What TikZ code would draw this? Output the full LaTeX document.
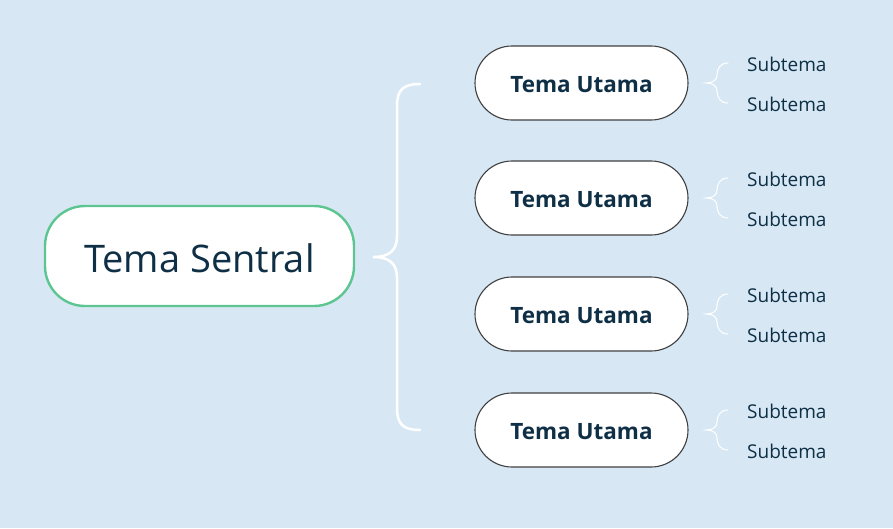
\documentclass[tikz,border=0pt]{standalone}
\usepackage{fontspec}
\setmainfont{Open Sans}
\definecolor{bg}{HTML}{D7E8F4}
\definecolor{txt}{HTML}{0E2F45}
\definecolor{grn}{HTML}{5CC591}
\definecolor{edge}{HTML}{404040}
\tikzset{
  central/.style={draw=grn, line width=2.4pt, fill=white, rounded corners=40pt,
    minimum width=309pt, minimum height=100pt, inner sep=0pt, text=txt, font=\fontsize{38}{40}\selectfont},
  mainbox/.style={draw=edge, line width=1.1pt, fill=white, rounded corners=37pt,
    minimum width=213pt, minimum height=74pt, inner sep=0pt, text=txt, font=\bfseries\fontsize{22.5}{26}\selectfont},
  subbox/.style={inner sep=0pt, anchor=west, text=txt, font=\fontsize{19}{22}\selectfont},
  bigbrace/.style={draw=white, line width=2.5pt, line cap=round},
  smallbrace/.style={draw=white, line width=1pt, line cap=round}
}
\begin{document}
\begin{tikzpicture}[x=1pt,y=-1pt]
\fill[bg] (0,0) rectangle (893,528);
\useasboundingbox (0,0) rectangle (893,528);
\node[central] (c) at (199.5,256) {\raisebox{-2pt}[\height][\depth]{Tema Sentral}};
\coordinate (tip) at (373,257);
\foreach \i/\y in {1/83,2/198,3/314,4/430}{
  \node[mainbox] (m\i) at (581.5,\y) {\raisebox{-1.5pt}[\height][\depth]{Tema Utama}};
  \node[subbox] (s\i a) at (747,\y-19) {Subtema};
  \node[subbox] (s\i b) at (747,\y+21) {Subtema};
  \coordinate (t\i) at (706,\y);
  \draw[smallbrace] (728,\y-20) .. controls (720,\y-20) and (717,\y-14) .. (717,\y-8)
     .. controls (717,\y-3) and (713,\y) .. (t\i)
     .. controls (713,\y) and (717,\y+3) .. (717,\y+8)
     .. controls (717,\y+14) and (720,\y+20) .. (728,\y+20);
}
\coordinate (bt) at (420,84);
\coordinate (bb) at (420,430);
\draw[bigbrace] (bt) .. controls (403,84) and (397,90) .. (397,106) -- (397,236)
  .. controls (397,250) and (390,257) .. (tip)
  .. controls (390,257) and (397,264) .. (397,278) -- (397,408)
  .. controls (397,424) and (403,430) .. (bb);
\end{tikzpicture}
\end{document}
